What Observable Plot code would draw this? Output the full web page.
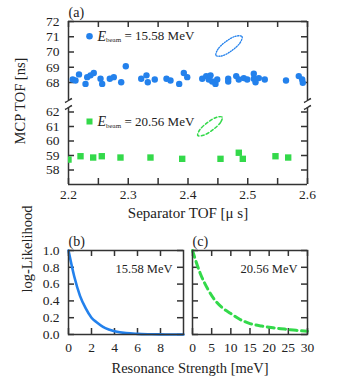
<!DOCTYPE html>
<html><head><meta charset="utf-8">
<script src="https://cdn.jsdelivr.net/npm/d3@7"></script>
<script src="https://cdn.jsdelivr.net/npm/@observablehq/plot@0.6"></script>
<style>
body{margin:0;background:#fff;}
#c{position:relative;width:341px;height:382px;font-family:"Liberation Serif",serif;color:#222;overflow:hidden;}
.p{position:absolute;}
.lab{position:absolute;font-size:14.5px;white-space:nowrap;transform:translate(-50%,-50%);}
</style></head><body><div id="c"></div>
<script>
// ---- data ----
const sepTofBlue = [2.207,2.2117,2.2176,2.2285,2.2313,2.2368,2.2423,2.2536,2.2564,2.2691,2.2758,2.2882,2.2959,2.3217,2.3305,2.3327,2.3444,2.364,2.3707,2.3853,2.393,2.3987,2.4238,2.4305,2.4348,2.4377,2.4405,2.446,2.4489,2.4673,2.4673,2.4807,2.485,2.4934,2.4991,2.5101,2.5101,2.513,2.5185,2.5285,2.564,2.5854,2.5911,2.5921];
const mcpTofBlue = [68.2,68.13,68.53,67.91,68.35,68.47,68.62,68.25,67.91,68.25,68.35,68.02,69.07,68.25,68.47,68.02,68.2,68.25,68.13,67.91,68.62,68.35,68.25,68.42,68.2,68.47,68.07,67.91,68.2,68.25,68.07,68.42,68.2,68.29,68.2,68.58,68.25,68.02,68.29,68.2,68.13,68.42,68.2,67.98];
const sepTofGreen = [2.2,2.2201,2.2413,2.2557,2.287,2.3372,2.3903,2.4544,2.485,2.4917,2.5464,2.5677];
const mcpTofGreen = [58.72,58.95,58.86,58.95,58.86,58.86,58.77,58.77,59.19,58.77,58.95,58.86];
// confidence ellipse outlines
const ellBlueX = [2.4904,2.4875,2.4736,2.4568,2.4469,2.4497,2.4636,2.4804];
const ellBlueY = [71.016,70.626,70.098,69.744,69.770,70.161,70.689,71.043];
const ellGreenX = [2.4572,2.4545,2.4413,2.4256,2.4164,2.4192,2.4323,2.4481];
const ellGreenY = [61.648,61.286,60.766,60.390,60.379,60.741,61.262,61.638];
// log-likelihood curves
const strengthB = [0,0.5,1,1.5,2,2.5,3,3.5,4,5,6,7,8,9,10];
const likeB = [1.0,0.69,0.46,0.31,0.2,0.14,0.09,0.06,0.04,0.016,0.007,0.003,0.001,0,0];
const strengthC = [0,2,4,6,8,10,12,15,18,21,24,27,30];
const likeC = [1.0,0.73,0.54,0.40,0.31,0.25,0.19,0.13,0.10,0.08,0.065,0.05,0.04];
// ticks & labels
const xTicksA = [2.2,2.3,2.4,2.5,2.6];
const xMinorA = [2.2,2.25,2.3,2.35,2.4,2.45,2.5,2.55,2.6];
const yTicksTop = [68,69,70,71,72];
const yTicksBot = [58,59,60,61,62];
const xTicksB = [0,2,4,6,8];
const xTicksC = [0,5,10,15,20,25,30];
const yTicksL = [0,0.2,0.4,0.6,0.8,1.0];
const labelBlue = "= 15.58 MeV";
const labelGreen = "= 20.56 MeV";
const energyB = "15.58 MeV";
const energyC = "20.56 MeV";

// ---- style ----
const BLUE = "#2381ec", GREEN = "#33d94a", AX = "#333";
const FONT = "Liberation Serif";
const st = {fontFamily: FONT, fontSize: "13.5px", background: "transparent", color: "#222", overflow: "visible"};
const breakSym = {draw(ctx){ ctx.moveTo(-3.5, 2); ctx.bezierCurveTo(-1, 1, 1, -1, 3.5, -2); }};
const c = document.getElementById("c");
function place(el, left, top){ const d = document.createElement("div"); d.className = "p"; d.style.left = left+"px"; d.style.top = top+"px"; d.appendChild(el); c.appendChild(d); }
const T = 6;
const M = "middle";

// ---- panel (a) top ----
const fwA = 239, fhTop = 79, fhBot = 77;
const aTop = Plot.plot({
  width: 341, height: 102, marginLeft: 68, marginRight: 34, marginTop: 21, marginBottom: 2,
  style: st,
  x: {domain: [2.2, 2.6], axis: null},
  y: {domain: [66.82, 72], ticks: yTicksTop, tickFormat: d => String(d), tickSize: 0, tickPadding: 9, label: null},
  marks: [
    Plot.ruleX([2.2, 2.6], {stroke: AX, strokeWidth: 1.5}),
    Plot.ruleY([72], {stroke: AX, strokeWidth: 1.5}),
    Plot.ruleX(xMinorA, {stroke: AX, strokeWidth: 1.5, insetBottom: fhTop - T}),
    Plot.ruleY(yTicksTop, {stroke: AX, strokeWidth: 1.5, insetRight: fwA - T}),
    Plot.ruleY(yTicksTop, {stroke: AX, strokeWidth: 1.5, insetLeft: fwA - T}),
    Plot.line(ellBlueX.map((x, i) => ({x, y: ellBlueY[i]})), {x: "x", y: "y", curve: "catmull-rom-closed", stroke: BLUE, strokeWidth: 1.3, strokeDasharray: "1.1,1.4"}),
    Plot.dot(sepTofBlue.map((x, i) => ({x, y: mcpTofBlue[i]})), {x: "x", y: "y", r: 3.2, fill: BLUE}),
    Plot.dot([0], {frameAnchor: "top-left", dx: 21, dy: 14.7, r: 3.3, fill: BLUE}),
    Plot.text(["E"], {frameAnchor: "top-left", dx: 29, dy: 14.7, textAnchor: "start", lineAnchor: M, fontStyle: "italic", fontSize: 14}),
    Plot.text(["beam"], {frameAnchor: "top-left", dx: 37.5, dy: 18.5, textAnchor: "start", lineAnchor: M, fontSize: 7}),
    Plot.text([labelBlue], {frameAnchor: "top-left", dx: 56, dy: 14.7, textAnchor: "start", lineAnchor: M, fontSize: 13}),
    Plot.dot([2.2, 2.6], {x: d => d, y: () => 66.82, symbol: breakSym, fill: "none", stroke: AX, strokeWidth: 1.5}),
    Plot.text(["(a)"], {frameAnchor: "top-left", dy: -9, textAnchor: "start", lineAnchor: M, fontSize: 14})
  ]
});
place(aTop, 0, 0);

// ---- panel (a) bottom ----
const aBot = Plot.plot({
  width: 341, height: 120, marginLeft: 68, marginRight: 34, marginTop: 4, marginBottom: 39,
  style: st,
  x: {domain: [2.2, 2.6], ticks: xTicksA, tickFormat: d => d.toFixed(1), tickSize: 0, tickPadding: 5, label: null},
  y: {domain: [57, 62.31], ticks: yTicksBot, tickFormat: d => String(d), tickSize: 0, tickPadding: 9, label: null},
  marks: [
    Plot.ruleX([2.2, 2.6], {stroke: AX, strokeWidth: 1.5}),
    Plot.ruleY([57], {stroke: AX, strokeWidth: 1.5}),
    Plot.ruleX(xMinorA, {stroke: AX, strokeWidth: 1.5, insetTop: fhBot - T}),
    Plot.ruleY(yTicksBot, {stroke: AX, strokeWidth: 1.5, insetRight: fwA - T}),
    Plot.ruleY(yTicksBot, {stroke: AX, strokeWidth: 1.5, insetLeft: fwA - T}),
    Plot.line(ellGreenX.map((x, i) => ({x, y: ellGreenY[i]})), {x: "x", y: "y", curve: "catmull-rom-closed", stroke: GREEN, strokeWidth: 1.5, strokeDasharray: "3,2.2"}),
    Plot.dot(sepTofGreen.map((x, i) => ({x, y: mcpTofGreen[i]})), {x: "x", y: "y", r: 3.6, symbol: "square", fill: GREEN, clip: true}),
    Plot.dot([0], {frameAnchor: "top-left", dx: 21, dy: 14, r: 3.4, symbol: "square", fill: GREEN}),
    Plot.text(["E"], {frameAnchor: "top-left", dx: 29, dy: 14, textAnchor: "start", lineAnchor: M, fontStyle: "italic", fontSize: 14}),
    Plot.text(["beam"], {frameAnchor: "top-left", dx: 37.5, dy: 17.8, textAnchor: "start", lineAnchor: M, fontSize: 7}),
    Plot.text([labelGreen], {frameAnchor: "top-left", dx: 56, dy: 14, textAnchor: "start", lineAnchor: M, fontSize: 13}),
    Plot.dot([2.2, 2.6], {x: d => d, y: () => 62.31, symbol: breakSym, fill: "none", stroke: AX, strokeWidth: 1.5}),
    Plot.text(["Separator TOF [μ s]"], {frameAnchor: "bottom", dy: 29, lineAnchor: M, fontSize: 15})
  ]
});
place(aBot, 0, 103);

// ---- panel (b) ----
const fwB = 115, fhB = 84;
const pb = Plot.plot({
  width: 188, height: 130, marginLeft: 68, marginRight: 5, marginTop: 18, marginBottom: 28,
  style: st,
  x: {domain: [0, 10], ticks: xTicksB, tickFormat: d => String(d), tickSize: 0, tickPadding: 8, label: null},
  y: {domain: [0, 1], ticks: yTicksL, tickFormat: d => d.toFixed(1), tickSize: 0, tickPadding: 9, label: null},
  marks: [
    Plot.ruleX(xTicksB, {stroke: AX, strokeWidth: 1.5, insetTop: fhB - T}),
    Plot.ruleX(xTicksB, {stroke: AX, strokeWidth: 1.5, insetBottom: fhB - T}),
    Plot.ruleY(yTicksL, {stroke: AX, strokeWidth: 1.5, insetRight: fwB - T}),
    Plot.ruleY(yTicksL, {stroke: AX, strokeWidth: 1.5, insetLeft: fwB - T}),
    Plot.line(strengthB.map((x, i) => ({x, y: likeB[i]})), {x: "x", y: "y", curve: "monotone-x", stroke: BLUE, strokeWidth: 2.6}),
    Plot.frame({stroke: AX, strokeWidth: 1.5}),
    Plot.text([energyB], {frameAnchor: "top-right", dx: -11, dy: 18, textAnchor: "end", lineAnchor: M, fontSize: 12.5}),
    Plot.text(["(b)"], {frameAnchor: "top-left", dy: -9, textAnchor: "start", lineAnchor: M, fontSize: 14}),
    Plot.text(["log-Likelihood"], {frameAnchor: "left", dx: -41, rotate: -90, lineAnchor: M, fontSize: 14.5})
  ]
});
place(pb, 0, 232);

// ---- panel (c) ----
const pc = Plot.plot({
  width: 153, height: 130, marginLeft: 4, marginRight: 34, marginTop: 18, marginBottom: 28,
  style: st,
  x: {domain: [0, 30], ticks: xTicksC, tickFormat: d => String(d), tickSize: 0, tickPadding: 8, label: null},
  y: {domain: [0, 1], axis: null},
  marks: [
    Plot.ruleX(xTicksC, {stroke: AX, strokeWidth: 1.5, insetTop: fhB - T}),
    Plot.ruleX(xTicksC, {stroke: AX, strokeWidth: 1.5, insetBottom: fhB - T}),
    Plot.ruleY(yTicksL, {stroke: AX, strokeWidth: 1.5, insetRight: fwB - T}),
    Plot.ruleY(yTicksL, {stroke: AX, strokeWidth: 1.5, insetLeft: fwB - T}),
    Plot.line(strengthC.map((x, i) => ({x, y: likeC[i]})), {x: "x", y: "y", curve: "monotone-x", stroke: GREEN, strokeWidth: 3, strokeDasharray: "7,4.5"}),
    Plot.frame({stroke: AX, strokeWidth: 1.5}),
    Plot.text([energyC], {frameAnchor: "top-right", dx: -10, dy: 18, textAnchor: "end", lineAnchor: M, fontSize: 12.5}),
    Plot.text(["(c)"], {frameAnchor: "top-left", dy: -9, textAnchor: "start", lineAnchor: M, fontSize: 14})
  ]
});
place(pc, 188, 232);

// ---- shared titles ----
function lab(text, x, y, rot){ const d = document.createElement("div"); d.className = "lab"; d.textContent = text; d.style.left = x+"px"; d.style.top = y+"px"; if (rot) d.style.transform = "translate(-50%,-50%) rotate(-90deg)"; c.appendChild(d); }
lab("MCP TOF [ns]", 20, 101, true);
lab("Resonance Strength [meV]", 190, 368, false);
</script></body></html>
